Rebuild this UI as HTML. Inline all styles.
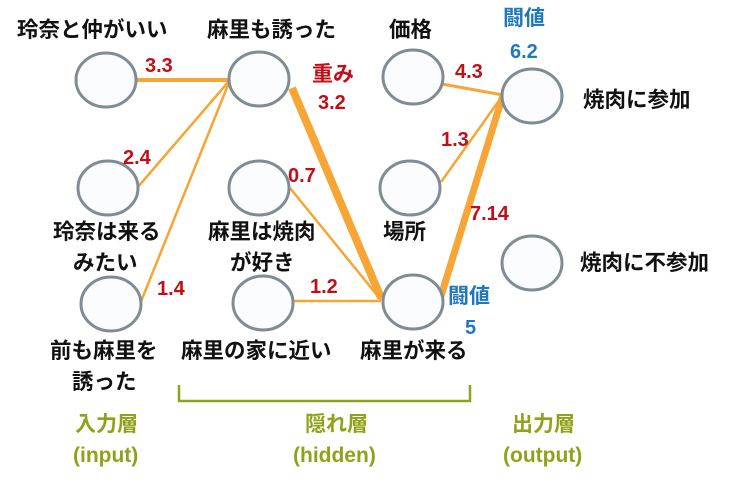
<!DOCTYPE html>
<html><head><meta charset="utf-8"><style>
html,body{margin:0;padding:0;background:#fff;}
svg{display:block;}
text{font-family:"Liberation Sans","Noto Sans CJK JP",sans-serif;font-weight:bold;font-size:20px;}
.k{fill:#111;font-size:21.5px;}
.r{fill:#c00f16;}
.rj{fill:#c00f16;font-size:21px;}
.b{fill:#1f77c0;}
.bj{fill:#1f77c0;font-size:21px;}
.g{fill:#8fa31a;font-size:21px;}
</style></head><body>
<svg width="750" height="481" viewBox="0 0 750 481" xmlns="http://www.w3.org/2000/svg">
<g stroke="#f7a535" fill="none" stroke-linecap="butt">
<line x1="136" y1="80" x2="230" y2="80" stroke-width="4"/>
<line x1="137" y1="188" x2="230" y2="80" stroke-width="2.5"/>
<line x1="140" y1="304" x2="230" y2="80" stroke-width="2.5"/>
<line x1="292" y1="88" x2="381" y2="298" stroke-width="8"/>
<line x1="290" y1="188" x2="381" y2="300" stroke-width="2.5"/>
<line x1="294" y1="301" x2="381" y2="301" stroke-width="2.5"/>
<line x1="442" y1="84" x2="503" y2="95" stroke-width="3"/>
<line x1="441" y1="182" x2="503" y2="95" stroke-width="2.5"/>
<line x1="441" y1="296" x2="503" y2="95" stroke-width="7"/>
</g>
<g fill="#fbfcfd" stroke="#7f8c93" stroke-width="3">
<ellipse cx="106" cy="80" rx="30" ry="27"/>
<ellipse cx="108" cy="188" rx="30" ry="27"/>
<ellipse cx="111" cy="304" rx="30" ry="27"/>
<ellipse cx="259" cy="79" rx="30" ry="27"/>
<ellipse cx="259" cy="188" rx="30" ry="27"/>
<ellipse cx="263" cy="303" rx="30" ry="27"/>
<ellipse cx="413" cy="77" rx="30" ry="27"/>
<ellipse cx="410" cy="188" rx="30" ry="27"/>
<ellipse cx="413" cy="302" rx="30" ry="27"/>
<ellipse cx="532" cy="96" rx="30" ry="27"/>
<ellipse cx="532" cy="263" rx="30" ry="27"/>
</g>
<path d="M179,385 V401 H470 V385" fill="none" stroke="#8fa31a" stroke-width="2.5"/>
<text class="k" x="17" y="37">玲奈と仲がいい</text>
<text class="k" x="207" y="37">麻里も誘った</text>
<text class="k" x="389" y="37">価格</text>
<text class="bj" x="503" y="25">闘値</text>
<text class="b" x="510" y="58">6.2</text>
<text class="k" x="583" y="107">焼肉に参加</text>
<text class="k" x="580" y="270">焼肉に不参加</text>
<text class="r" x="145" y="72">3.3</text>
<text class="rj" x="312" y="81">重み</text>
<text class="r" x="318" y="109">3.2</text>
<text class="r" x="123" y="164">2.4</text>
<text class="r" x="288" y="182">0.7</text>
<text class="r" x="455" y="78">4.3</text>
<text class="r" x="441" y="146">1.3</text>
<text class="r" x="470" y="220">7.14</text>
<text class="r" x="157" y="295">1.4</text>
<text class="r" x="310" y="293">1.2</text>
<text class="k" x="53" y="239">玲奈は来る</text>
<text class="k" x="73" y="270">みたい</text>
<text class="k" x="208" y="239">麻里は焼肉</text>
<text class="k" x="230" y="270">が好き</text>
<text class="k" x="383" y="239">場所</text>
<text class="bj" x="448" y="303">闘値</text>
<text class="b" x="465" y="334">5</text>
<text class="k" x="50" y="358">前も麻里を</text>
<text class="k" x="72" y="389">誘った</text>
<text class="k" x="181" y="358">麻里の家に近い</text>
<text class="k" x="360" y="358">麻里が来る</text>
<text class="g" x="75" y="431">入力層</text>
<text class="g" x="73" y="462">(input)</text>
<text class="g" x="305" y="431">隠れ層</text>
<text class="g" x="293" y="462">(hidden)</text>
<text class="g" x="512" y="431">出力層</text>
<text class="g" x="503" y="462">(output)</text>
</svg>
</body></html>
